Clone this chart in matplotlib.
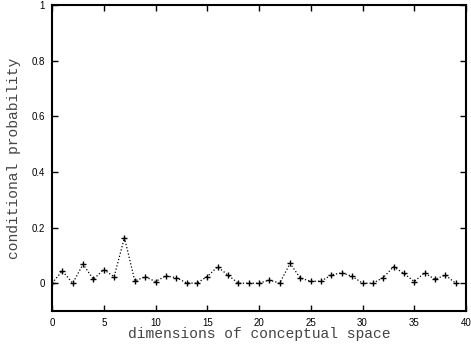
import numpy as np
import matplotlib
matplotlib.use('Agg')
from matplotlib import pyplot as plt

dims = np.arange(40)
prob = [0.0, 0.044, 0.0, 0.068, 0.014, 0.049, 0.023, 0.164, 0.008, 0.023,
        0.006, 0.026, 0.020, 0.001, 0.0, 0.024, 0.059, 0.029, 0.0, 0.0,
        0.0, 0.011, 0.0, 0.071, 0.018, 0.007, 0.007, 0.030, 0.037, 0.025,
        0.0, 0.0, 0.020, 0.059, 0.035, 0.006, 0.037, 0.014, 0.029, 0.0]
xticks = [0, 5, 10, 15, 20, 25, 30, 35, 40]
yticks = [0, 0.2, 0.4, 0.6, 0.8, 1]
ytick_labels = ['0', '0.2', '0.4', '0.6', '0.8', '1']

fig = plt.figure(figsize=(4.71, 3.45), dpi=100)
ax = fig.add_axes([52/471, 1-311/345, 414/471, 306/345])

ax.plot(dims, prob, color='black', linestyle=':', linewidth=0.9,
        marker='+', markersize=4.5, markeredgewidth=1.0)

ax.set_xlim(0, 40)
ax.set_ylim(-0.1, 1)
ax.set_xticks(xticks)
ax.set_yticks(yticks)
ax.set_yticklabels(ytick_labels)
ax.tick_params(direction='in', top=True, right=True, length=4, width=1,
               labelsize=7, pad=5)
for lbl in ax.get_xticklabels() + ax.get_yticklabels():
    lbl.set_family('Liberation Sans')
for s in ax.spines.values():
    s.set_linewidth(1.5)

ax.set_xlabel('dimensions of conceptual space', family='Liberation Mono',
              fontsize=10.5, color='#444444', labelpad=-1)
ax.set_ylabel('conditional probability', family='Liberation Mono',
              fontsize=10.5, color='#444444', labelpad=7.5)

fig.savefig('out.png', dpi=100)
